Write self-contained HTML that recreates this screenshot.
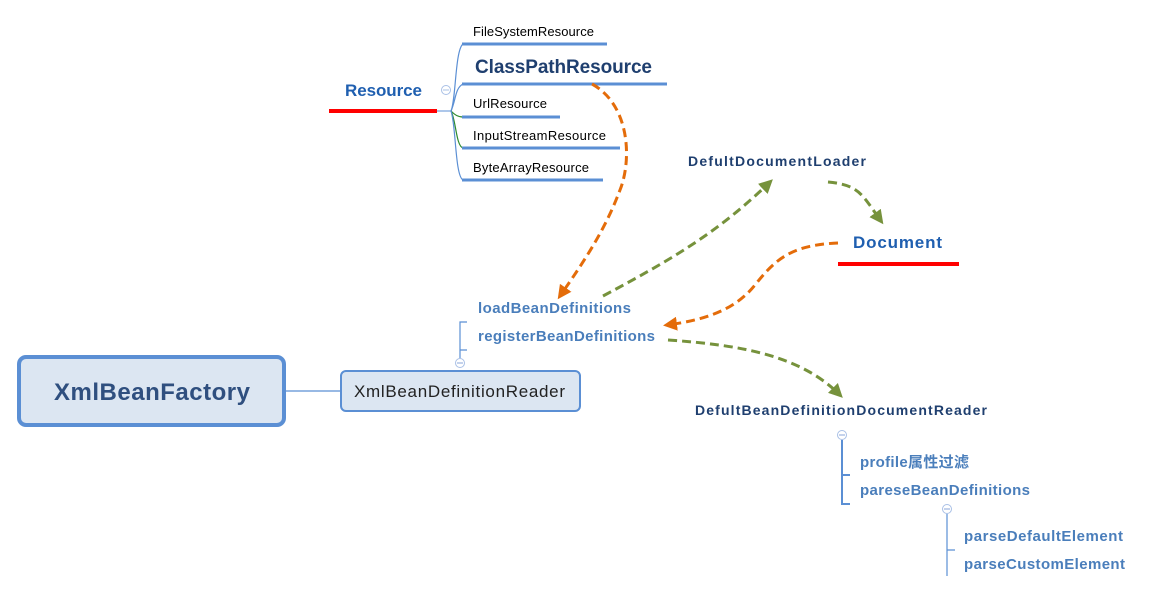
<!DOCTYPE html>
<html><head><meta charset="utf-8"><style>
html,body{margin:0;padding:0;background:#fff;}
svg{display:block;font-family:"Liberation Sans","Noto Sans CJK SC",sans-serif;}
.b{font-weight:bold;}
</style></head><body>
<svg width="1153" height="593" viewBox="0 0 1153 593" xmlns="http://www.w3.org/2000/svg">
<defs>
<marker id="ao" markerWidth="14" markerHeight="14" refX="10" refY="7" orient="auto" markerUnits="userSpaceOnUse" viewBox="0 0 14 14"><path d="M0,0 L14,7 L0,14 z" fill="#e46c0a"/></marker>
<marker id="ag" markerWidth="14" markerHeight="14" refX="10" refY="7" orient="auto" markerUnits="userSpaceOnUse" viewBox="0 0 14 14"><path d="M0,0 L14,7 L0,14 z" fill="#76923c"/></marker>
</defs>
<!-- Resource -->
<text x="345" y="96" class="b" font-size="17" fill="#1f5fb0" textLength="77">Resource</text>
<line x1="329" y1="111" x2="437" y2="111" stroke="#f00" stroke-width="4"/>
<line x1="437" y1="111" x2="451" y2="111" stroke="#5b8fd4" stroke-width="1"/>
<circle cx="446" cy="90" r="4.5" fill="#fff" stroke="#a9c0e6" stroke-width="1"/>
<line x1="443" y1="90" x2="449" y2="90" stroke="#a9c0e6"/>
<g fill="none" stroke-width="1.2">
<path d="M451,111 C456,100 455,50 463,44" stroke="#5b8fd4"/>
<path d="M451,111 C456,100 455,88 463,84" stroke="#5b8fd4"/>
<path d="M451,111 C455,115 458,117 463,117" stroke="#2e8b2e"/>
<path d="M451,111 C456,120 456,146 463,148" stroke="#2e8b2e"/>
<path d="M451,111 C456,125 455,176 463,180" stroke="#5b8fd4"/>
</g>
<g stroke="#5b8fd4" stroke-width="3">
<line x1="462" y1="44" x2="607" y2="44"/>
<line x1="462" y1="84" x2="667" y2="84"/>
<line x1="462" y1="117" x2="560" y2="117"/>
<line x1="462" y1="148" x2="620" y2="148"/>
<line x1="462" y1="180" x2="603" y2="180"/>
</g>
<g font-size="13" fill="#000">
<text x="473" y="36" textLength="121">FileSystemResource</text>
<text x="473" y="108" textLength="74">UrlResource</text>
<text x="473" y="140" textLength="133">InputStreamResource</text>
<text x="473" y="172" textLength="116">ByteArrayResource</text>
</g>
<text x="475" y="73" class="b" font-size="19" fill="#1f3f6f" textLength="177">ClassPathResource</text>

<!-- main boxes -->
<rect x="19" y="357" width="265" height="68" rx="7" fill="#dce6f2" stroke="#5b8fd4" stroke-width="4"/>
<text x="54" y="400" class="b" font-size="24" fill="#2f4f7f" textLength="196">XmlBeanFactory</text>
<line x1="285" y1="391" x2="340" y2="391" stroke="#5b8fd4" stroke-width="1.2"/>
<rect x="341" y="371" width="239" height="40" rx="5" fill="#dce6f2" stroke="#5b8fd4" stroke-width="2"/>
<text x="354" y="397" font-size="17" fill="#222" textLength="211">XmlBeanDefinitionReader</text>
<path d="M467,322 H460 V358 M460,350 H467" fill="none" stroke="#5b8fd4" stroke-width="1.2"/>
<circle cx="460" cy="363" r="4.5" fill="#fff" stroke="#a9c0e6"/>
<line x1="457" y1="363" x2="463" y2="363" stroke="#8aa6d8"/>
<text x="478" y="313" class="b" font-size="15" fill="#4a7ebb" textLength="153">loadBeanDefinitions</text>
<text x="478" y="341" class="b" font-size="15" fill="#4a7ebb" textLength="177">registerBeanDefinitions</text>

<!-- loader/document -->
<text x="688" y="166" class="b" font-size="14" fill="#1f3f6f" textLength="178">DefultDocumentLoader</text>
<text x="853" y="248" class="b" font-size="17" fill="#1f5fb0" textLength="89">Document</text>
<line x1="838" y1="264" x2="959" y2="264" stroke="#f00" stroke-width="4"/>

<!-- document reader -->
<text x="695" y="415" class="b" font-size="14" fill="#1f3f6f" textLength="292">DefultBeanDefinitionDocumentReader</text>
<path d="M842,440 V504 H850 M842,475 H850" fill="none" stroke="#5b8fd4" stroke-width="2"/>
<circle cx="842" cy="435" r="4.5" fill="#fff" stroke="#a9c0e6"/>
<line x1="839" y1="435" x2="845" y2="435" stroke="#8aa6d8"/>
<text x="860" y="467" class="b" font-size="15" fill="#4a7ebb" textLength="109">profile属性过滤</text>
<text x="860" y="495" class="b" font-size="15" fill="#4a7ebb" textLength="170">pareseBeanDefinitions</text>
<path d="M947,514 V576 M947,550 H955" fill="none" stroke="#5b8fd4" stroke-width="1.2"/>
<circle cx="947" cy="509" r="4.5" fill="#fff" stroke="#a9c0e6"/>
<line x1="944" y1="509" x2="950" y2="509" stroke="#8aa6d8"/>
<text x="964" y="541" class="b" font-size="15" fill="#4a7ebb" textLength="159">parseDefaultElement</text>
<text x="964" y="569" class="b" font-size="15" fill="#4a7ebb" textLength="161">parseCustomElement</text>

<!-- dashed arrows -->
<g fill="none" stroke-width="3" stroke-dasharray="9,5">
<path d="M592,84 C630,105 632,160 620,190 C605,230 585,260 560,296" stroke="#e46c0a" marker-end="url(#ao)"/>
<path d="M603,296 C680,255 720,230 770,182" stroke="#76923c" marker-end="url(#ag)"/>
<path d="M828,182 C860,185 862,195 881,221" stroke="#76923c" marker-end="url(#ag)"/>
<path d="M838,243 C790,245 775,260 755,285 C735,310 705,320 667,325" stroke="#e46c0a" marker-end="url(#ao)"/>
<path d="M668,340 C740,345 800,355 840,395" stroke="#76923c" marker-end="url(#ag)"/>
</g>
</svg>
</body></html>
